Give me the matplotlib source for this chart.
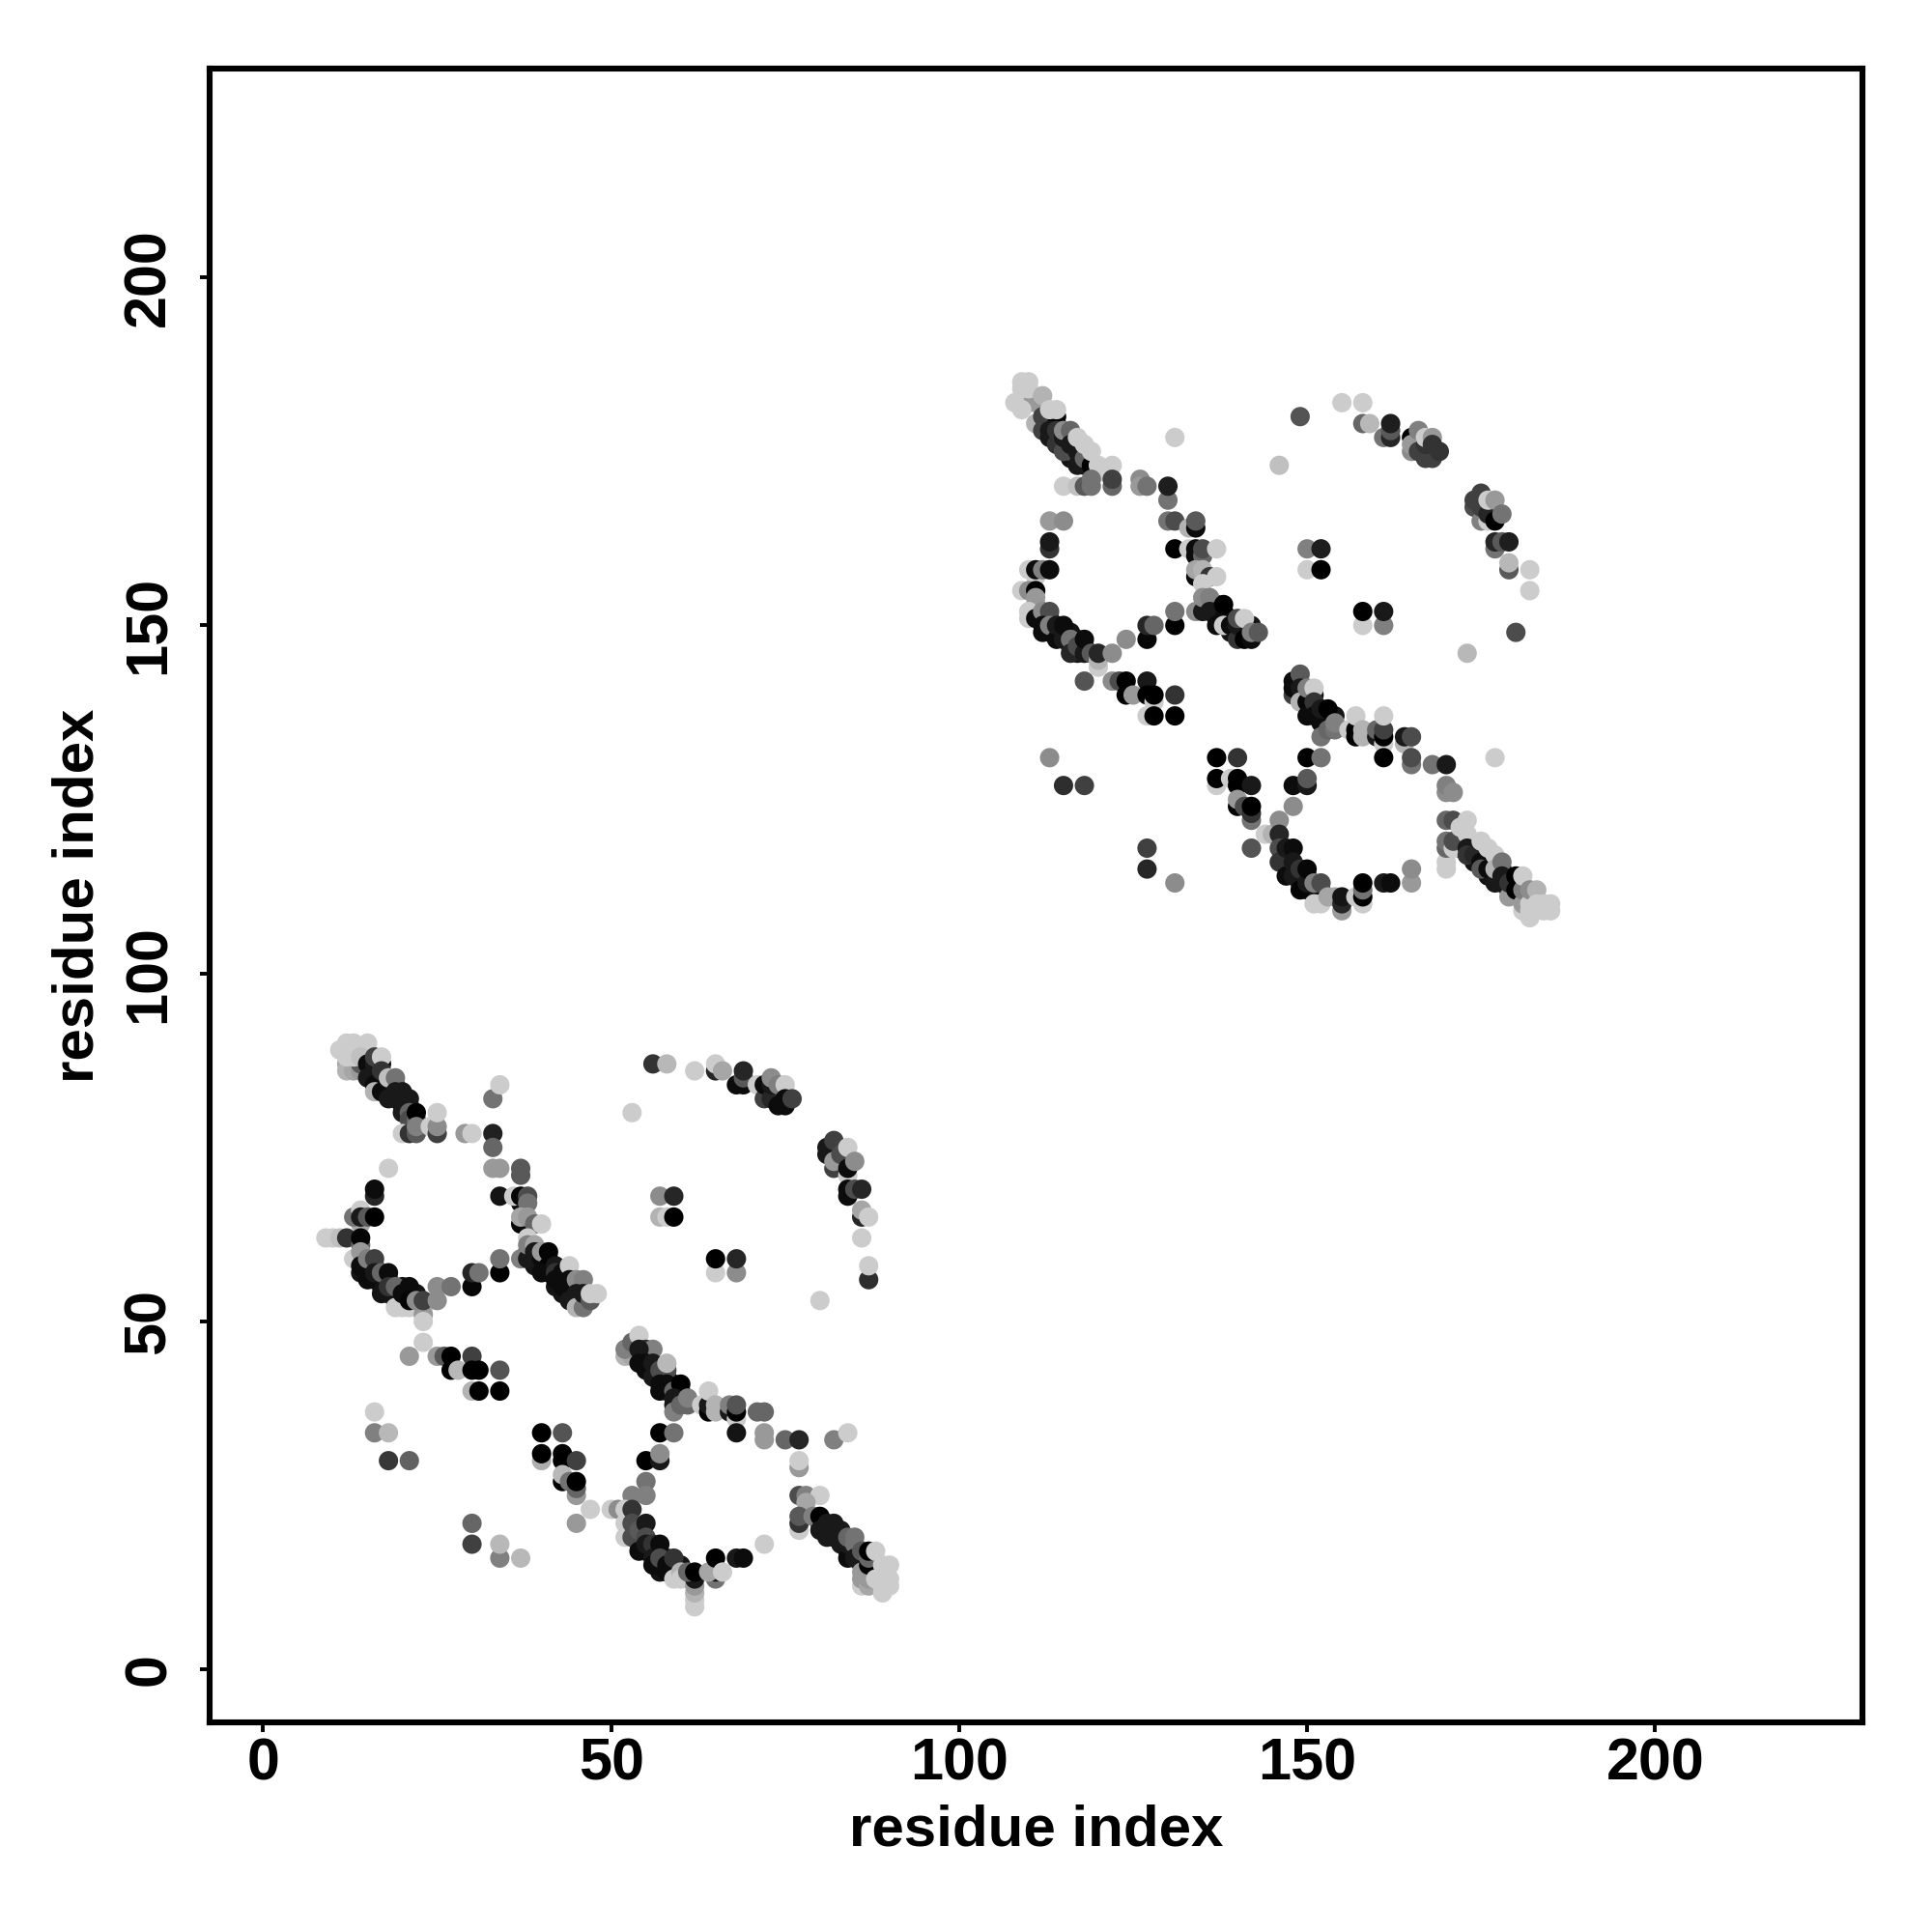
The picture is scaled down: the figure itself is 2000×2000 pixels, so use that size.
"""Residue contact map of two domains, points shaded by contact score."""

import matplotlib
matplotlib.use("Agg")
import matplotlib.pyplot as plt

ticks = [0, 50, 100, 150, 200]
L = 0.8  # weakest score shade
D = 0.08  # strong contacts in the dense bands

# dense dark bands, drawn first so the lighter points sit over them
core_lower = [
    (15, 86, D), (16, 85, D), (17, 85, D), (17, 84, D), (18, 83, D), (19, 84, D), (19, 82, D),
    (20, 81, D), (21, 81, D), (16, 86, D), (18, 84, D),
    (14, 59, D), (14, 57, D), (15, 58, D), (15, 57, D), (16, 58, D), (16, 56, D), (17, 56, D),
    (17, 55, D), (18, 56, D), (18, 54, D), (19, 54, D), (19, 53, D), (20, 55, D), (20, 53, D),
    (21, 54, D), (22, 54, D),
    (38, 60, D), (39, 59, D), (39, 58, D), (40, 58, D), (41, 59, D), (41, 57, D), (42, 55, D),
    (43, 56, D), (43, 54, D), (44, 54, D), (45, 53, D), (46, 53, D),
    (54, 45, D), (55, 45, D), (56, 43, D), (57, 42, D), (58, 42, D), (58, 40, D), (59, 41, D),
    (59, 38, D), (60, 39, D), (60, 40, D),
    (53, 20, D), (54, 19, D), (54, 18, D), (55, 17, D), (56, 17, D), (57, 15, D), (57, 14, D),
    (58, 16, D), (59, 15, D), (59, 14, D), (60, 15, D),
    (80, 21, D), (81, 20, D), (82, 20, D), (83, 19, D), (84, 17, D), (85, 17, D), (86, 16, D),
    (86, 15, D),
]
core_upper = [
    (113, 179, D), (114, 179, D), (114, 177, D), (115, 176, D), (116, 177, D), (116, 174, D),
    (117, 174, D), (118, 175, D), (118, 173, D),
    (111, 152, D), (112, 151, D), (113, 149, D), (113, 151, D), (114, 149, D), (115, 149, D),
    (116, 147, D), (116, 149, D), (117, 146, D), (117, 148, D), (118, 147, D),
    (136, 153, D), (137, 151, D), (137, 153, D), (138, 152, D), (139, 151, D), (139, 149, D),
    (140, 149, D), (141, 150, D), (141, 149, D), (142, 150, D),
    (149, 140, D), (150, 140, D), (151, 138, D), (151, 140, D), (152, 137, D), (153, 137, D),
    (153, 136, D), (154, 137, D),
    (147, 117, D), (147, 116, D), (148, 115, D), (149, 114, D), (149, 113, D), (150, 112, D),
    (150, 114, D), (151, 112, D), (152, 111, D), (152, 112, D),
    (172, 118, D), (173, 119, D), (174, 116, D), (174, 118, D), (175, 117, D), (176, 116, D),
    (176, 114, D), (177, 114, D), (178, 113, D), (178, 115, D), (179, 112, D),
]

# (residue i, residue j, grey level)
lower_strand = [
    (12, 87, .65), (13, 87, .6), (12, 86, .7), (13, 86, .65), (14, 86, .6), (14, 87, .35),
    (11, 89, L), (12, 90, L), (13, 90, L), (15, 90, L), (14, 89, L), (12, 88, L), (13, 88, L),
    (14, 88, .75), (15, 87, .05), (16, 87, .1), (17, 87, .05), (15, 85, .1), (16, 84, .05),
    (16, 88, .25), (17, 88, L), (17, 86, .2), (16, 83, .7), (17, 83, .05), (18, 85, .75),
    (19, 85, .45), (18, 82, .1), (19, 83, .1), (20, 83, .1), (20, 82, .1), (21, 82, .1),
    (20, 80, .1), (21, 80, .4), (21, 79, .3), (22, 79, .4), (22, 80, 0),
    (20, 77, L), (21, 77, .2), (22, 77, .35), (22, 78, .5), (24, 78, L), (25, 77, .25),
    (25, 78, .55), (25, 80, L), (29, 77, .6), (30, 77, L), (33, 77, .13), (33, 75, .4),
    (33, 82, .45), (34, 84, L), (53, 80, L),
]
lower_turn = [
    (18, 72, L), (33, 72, .6), (34, 72, .6), (37, 71, .35), (37, 72, .35),
    (16, 68, .15), (16, 69, .05), (34, 68, .08), (14, 64, .65), (13, 65, .45), (14, 66, L),
    (14, 65, .1), (15, 65, .35), (16, 65, 0), (9, 62, L), (10, 62, L), (11, 62, .75),
    (12, 62, .2), (14, 61, .4), (14, 62, .02), (13, 59, L), (14, 60, .6), (14, 58, .05),
    (15, 59, .5), (16, 59, .25), (15, 56, .05), (16, 57, .1), (17, 57, .4), (18, 57, .05),
    (17, 54, .08), (18, 55, .2), (19, 55, .4), (19, 52, L), (20, 52, L), (21, 52, L),
    (20, 54, .05), (21, 55, .05), (21, 53, .02), (23, 52, L), (23, 51, .6), (23, 50, L),
    (22, 53, .55), (23, 53, .25), (25, 55, .55), (27, 55, .45), (25, 53, .55), (23, 47, L),
    (30, 55, .03), (30, 57, .15), (31, 57, .45), (34, 57, 0), (34, 59, .45),
]
lower_helix = [
    (37, 67, .05), (36, 68, L), (37, 68, .02), (38, 68, .3), (38, 67, .45),
    (37, 64, .02), (38, 64, .05), (37, 65, .65), (38, 65, .6), (39, 64, .4), (40, 64, L),
    (38, 62, L), (37, 59, .5), (38, 59, .1), (38, 61, .5), (39, 61, .65), (39, 60, .1),
    (40, 59, .05), (40, 60, .6), (41, 60, .02), (41, 58, .02), (40, 57, .05), (42, 58, .1),
    (42, 57, .2), (42, 56, .05), (43, 57, .05), (43, 55, .05), (44, 58, L), (44, 56, .05),
    (44, 55, .05), (45, 55, .05), (45, 56, .55), (46, 56, .5), (44, 53, .1), (45, 54, .1),
    (45, 52, .7), (46, 52, .45), (46, 54, .1), (47, 53, .35), (47, 54, L), (48, 54, L),
]
lower_far = [
    (56, 87, .2), (58, 87, .72), (62, 86, L), (65, 86, .15), (65, 87, L), (66, 86, .65),
    (68, 84, .05), (69, 84, .05), (69, 85, .35), (69, 86, .15), (71, 84, L), (72, 82, .25),
    (72, 84, .05), (73, 82, .15), (73, 84, .1), (73, 85, .55), (74, 84, .5), (75, 84, L),
    (74, 81, .05), (75, 81, .05), (75, 82, .05), (76, 82, .25),
    (81, 74, .1), (81, 75, .1), (82, 76, .25), (82, 72, .25), (82, 73, .6), (83, 74, .3),
    (84, 71, L), (84, 72, .05), (84, 75, L), (85, 73, .55), (84, 68, .05), (84, 69, .05),
    (85, 69, .3), (86, 69, .15), (86, 65, .15), (86, 66, .65), (87, 65, L), (86, 62, L),
    (87, 56, .18), (87, 58, L), (80, 53, L),
    (57, 68, .55), (59, 68, .15), (57, 65, .7), (58, 65, L), (59, 65, 0),
    (65, 57, L), (68, 57, .55), (65, 59, 0), (68, 59, .15),
]
lower_cross = [
    (21, 45, .6), (25, 45, .6), (26, 45, .35), (27, 43, 0), (27, 45, 0), (28, 43, .72),
    (30, 45, .25), (30, 43, 0), (31, 43, 0), (34, 43, .33), (30, 40, .7), (31, 40, 0),
    (34, 40, 0), (16, 37, L), (16, 34, .5), (18, 34, .72), (18, 30, .22), (21, 30, .38),
    (40, 30, .68), (40, 34, 0), (43, 34, .33), (40, 31, 0), (43, 30, 0), (43, 31, 0),
    (45, 30, .25), (43, 27, 0), (43, 28, .72), (44, 27, .45), (45, 25, .6), (45, 26, .4),
    (45, 27, 0), (47, 23, L), (45, 21, .6), (30, 21, .4), (30, 18, .25), (34, 16, .5),
    (34, 18, .72), (37, 16, .72),
]
lower_strand2 = [
    (52, 45, .7), (53, 45, .65), (52, 46, .5), (53, 47, .4), (54, 48, L), (55, 46, .2),
    (56, 46, .5), (54, 46, .1), (54, 44, .05), (55, 44, .05), (55, 43, .05), (56, 44, .1),
    (56, 42, .1), (57, 43, .3), (58, 43, .3), (58, 44, .72), (57, 40, .05), (57, 41, .05),
    (58, 41, .05), (59, 40, .4), (60, 41, 0), (59, 39, .1), (59, 37, .5), (60, 38, .4),
    (61, 38, .4), (61, 39, .5), (63, 38, L), (64, 37, 0), (64, 38, .1), (64, 40, L),
    (65, 37, .7), (65, 38, .7), (67, 37, .1), (67, 38, .5), (68, 36, L), (68, 37, 0),
    (68, 38, .33), (71, 37, .4), (72, 37, .4), (68, 34, .08), (72, 33, .6), (72, 34, .6),
    (75, 33, .4), (77, 33, .15), (77, 29, .6), (77, 30, L), (82, 33, .5), (84, 34, L),
    (57, 34, 0), (59, 34, .45), (55, 30, 0), (57, 30, .1), (57, 31, .55), (55, 27, .45),
    (53, 25, .5), (55, 25, .5),
]
lower_turn2 = [
    (50, 23, L), (51, 23, .55), (52, 23, L), (52, 21, L), (52, 19, L), (53, 23, .2),
    (53, 21, .3), (53, 19, .3), (54, 20, .35), (54, 17, .05), (55, 21, .1), (55, 19, .3),
    (55, 18, .1), (56, 18, .2), (56, 16, .1), (56, 15, .05), (57, 18, .05), (57, 16, .3),
    (58, 15, .05), (58, 14, .05), (59, 16, .2), (59, 13, L), (60, 14, .7), (60, 13, L),
    (62, 9, L), (62, 10, L), (62, 11, .7), (62, 12, .6), (62, 13, .1), (61, 14, .4),
    (62, 14, 0), (65, 13, .45), (65, 14, .1), (64, 14, .65), (65, 16, 0), (66, 14, L),
    (68, 16, .1), (69, 16, .05), (72, 18, L),
]
lower_helix2 = [
    (77, 25, .3), (78, 25, .5), (80, 25, L), (78, 24, .65), (77, 20, L), (77, 21, .2),
    (77, 22, .35), (79, 22, .5), (80, 22, 0), (80, 20, .1), (81, 21, .1), (81, 19, .1),
    (82, 21, .1), (82, 19, .1), (83, 20, .1), (83, 18, .1), (84, 16, .05), (84, 18, .1),
    (84, 19, .4), (85, 19, .45), (85, 18, .45), (85, 16, .1), (86, 14, .6), (86, 17, .35),
    (86, 12, L), (86, 13, .6), (87, 12, .65), (87, 13, .6), (87, 15, 0), (87, 16, .4),
    (87, 17, 0), (88, 17, L), (88, 13, L), (89, 11, L), (89, 12, L), (90, 12, L),
    (89, 13, L), (90, 13, L), (89, 15, L), (90, 15, L),
]
upper_strand = [
    (109, 182, .7), (110, 182, .6), (111, 182, .6), (109, 181, L), (108, 182, L),
    (109, 185, L), (110, 185, L), (109, 184, L), (110, 184, L), (112, 183, .7),
    (111, 179, .7), (112, 180, .25), (114, 180, 0), (113, 181, L), (114, 181, L),
    (112, 178, .25), (113, 178, .1), (113, 177, .1), (114, 178, .2), (114, 176, .2),
    (115, 175, .3), (115, 177, .1), (116, 175, .3), (115, 178, .55), (116, 178, .4),
    (116, 176, .1), (117, 173, .1), (117, 175, .1), (118, 174, .4), (117, 177, L),
    (118, 176, L), (119, 173, 0), (119, 175, L), (120, 173, L), (121, 172, L), (122, 173, L),
    (115, 170, L), (117, 170, .75), (118, 170, .35), (119, 170, .45), (119, 171, .45),
    (122, 170, .4), (122, 171, .25), (126, 171, .55), (126, 170, .6), (127, 170, .45),
    (130, 168, .45), (130, 170, .12), (131, 177, L), (149, 180, .33), (146, 173, .75),
]
upper_turn = [
    (113, 165, .6), (115, 165, .55), (130, 165, .45), (131, 165, .3), (133, 164, .7),
    (134, 164, .05), (134, 165, .35), (113, 161, .2), (113, 162, .1), (131, 161, 0),
    (110, 158, L), (111, 157, L), (111, 158, .05), (112, 158, .5), (113, 158, .05),
    (109, 155, L), (110, 155, .55), (111, 155, 0), (111, 153, .55), (111, 154, .6),
    (110, 151, L), (110, 152, L), (111, 151, .05), (112, 152, .55), (113, 152, .3),
    (112, 149, .05), (112, 150, .05), (113, 150, .5), (114, 148, .05), (114, 150, .1),
    (115, 148, .1), (115, 150, .05), (116, 148, .45), (116, 146, .15), (117, 147, .3),
    (118, 146, .1), (118, 148, .05), (119, 146, .35), (120, 144, L), (120, 145, .7),
    (120, 146, .15), (122, 146, .55), (124, 148, .55), (127, 148, .03), (127, 150, .15),
    (128, 150, .4), (131, 150, 0), (131, 152, .45),
]
upper_helix = [
    (133, 161, L), (134, 160, .05), (134, 161, .05), (135, 160, .4), (135, 161, .3),
    (137, 161, L), (134, 157, .05), (135, 157, .05), (134, 158, .65), (135, 158, .7),
    (136, 157, .2), (137, 157, L), (135, 156, L), (134, 152, .55), (135, 152, .1),
    (135, 154, .55), (136, 154, .5), (136, 152, .1), (137, 152, .1), (137, 150, .05),
    (138, 151, .05), (138, 153, 0), (138, 150, L), (139, 150, .05), (140, 148, .2),
    (140, 150, .1), (140, 151, .3), (141, 151, L), (141, 148, 0), (142, 148, .05),
    (142, 149, .5), (143, 149, .35),
]
upper_far = [
    (155, 182, L), (158, 182, L), (158, 179, .4), (159, 179, .72), (161, 177, .45),
    (162, 177, .15), (162, 178, .35), (162, 179, .12), (165, 175, .55), (165, 177, 0),
    (165, 176, .6), (166, 175, .25), (167, 174, .25), (168, 174, .25), (166, 178, .5),
    (167, 176, .2), (167, 177, L), (168, 177, .6), (168, 176, .2), (169, 175, .2),
    (174, 167, .3), (174, 168, .25), (175, 169, .25), (175, 165, .5), (175, 167, .25),
    (176, 165, L), (176, 166, .15), (176, 168, L), (177, 168, .6), (177, 165, 0),
    (178, 166, .45), (177, 161, .45), (177, 162, .15), (178, 162, .35), (179, 162, .12),
    (179, 158, .35), (179, 159, .72), (182, 158, L), (182, 155, L), (180, 149, .3),
    (173, 146, .72), (150, 161, .5), (152, 161, .12), (150, 158, L), (152, 158, 0),
    (158, 150, L), (161, 150, .5), (158, 152, 0), (161, 152, .1),
]
upper_cross = [
    (118, 142, .33), (122, 142, .55), (123, 142, .3), (124, 140, 0), (124, 142, 0),
    (125, 140, .6), (127, 142, .1), (127, 140, 0), (127, 137, L), (128, 139, L), (128, 140, 0),
    (128, 137, 0), (131, 140, .2), (131, 137, 0), (113, 131, .55), (115, 127, .18),
    (118, 127, .25), (137, 127, L), (137, 131, 0), (140, 131, .2), (137, 128, 0),
    (139, 128, L), (140, 127, 0), (140, 128, 0), (142, 127, .1), (140, 124, 0),
    (140, 125, .6), (141, 124, .3), (142, 122, .45), (142, 123, .2), (142, 124, 0),
    (144, 120, L), (145, 120, .7), (142, 118, .33), (127, 118, .25), (127, 115, .15),
    (131, 113, .55),
]
upper_strand2 = [
    (148, 127, .05), (150, 127, .1), (150, 128, .35), (150, 131, 0), (152, 131, .45),
    (148, 124, .55), (146, 122, .55), (148, 140, .25), (148, 141, .05), (148, 142, .05),
    (149, 143, .35), (149, 141, .1), (149, 139, .7), (150, 139, .03), (150, 141, .5),
    (151, 141, L), (150, 137, .05), (151, 139, .2), (151, 137, .05), (152, 136, .05),
    (152, 134, .45), (152, 138, .1), (153, 138, 0), (153, 135, .4), (154, 135, .45),
    (154, 136, .5), (156, 135, L), (157, 134, 0), (157, 135, .02), (157, 137, L),
    (158, 134, .7), (158, 135, .7), (160, 134, .1), (160, 135, .4), (161, 133, L),
    (161, 134, 0), (161, 135, .25), (161, 137, L), (161, 131, 0), (164, 133, .7),
    (164, 134, .1), (165, 134, .3), (165, 130, .45), (165, 131, .3), (168, 130, .45),
    (170, 130, .1), (170, 126, .55), (170, 127, .5), (171, 126, .55), (177, 131, L),
]
upper_turn2 = [
    (146, 120, .15), (146, 118, .3), (146, 116, .2), (147, 118, .1), (147, 114, .05),
    (148, 118, .05), (148, 116, .1), (148, 114, .1), (149, 115, .2), (149, 112, .02),
    (150, 113, .1), (150, 115, .03), (151, 110, L), (152, 110, L), (151, 113, .5),
    (152, 113, .3), (153, 111, .65), (154, 111, .65), (155, 109, .6), (155, 110, .15),
    (155, 111, .08), (157, 111, L), (158, 110, L), (158, 111, 0), (158, 112, .45),
    (158, 113, 0), (161, 113, .1), (162, 113, .05), (165, 113, .6), (165, 115, .55),
]
upper_helix2 = [
    (170, 122, .4), (171, 122, .3), (170, 115, L), (170, 116, L), (170, 118, .4),
    (170, 119, .45), (171, 118, L), (171, 119, .3), (172, 121, L), (173, 122, L),
    (173, 120, L), (173, 118, .1), (173, 117, .2), (174, 117, .15), (175, 116, .05),
    (175, 115, .35), (175, 119, L), (176, 118, L), (176, 115, .05), (177, 113, .1),
    (177, 117, L), (177, 115, .7), (178, 116, .45), (178, 114, .1), (179, 111, .6),
    (179, 113, .2), (180, 112, 0), (180, 114, 0), (181, 109, L), (181, 110, .6),
    (181, 112, .5), (181, 114, L), (182, 108, L), (182, 109, L), (182, 110, L),
    (182, 112, .55), (183, 112, .7), (183, 110, L), (184, 109, L), (184, 110, L),
    (185, 109, L), (185, 110, L),
]

groups = [core_lower, core_upper, lower_strand, lower_turn, lower_helix, lower_far, lower_cross,
          lower_strand2, lower_turn2, lower_helix2, upper_strand, upper_turn, upper_helix,
          upper_far, upper_cross, upper_strand2, upper_turn2, upper_helix2]

plt.rcParams["font.family"] = ["Liberation Sans", "DejaVu Sans"]
plt.rcParams["font.weight"] = "bold"

fig = plt.figure(figsize=(10, 10), dpi=200)
ax = fig.add_axes([217 / 2000, 1 - 1783 / 2000, 1711 / 2000, 1712 / 2000])

for g in groups:
    xs = [p[0] for p in g]
    ys = [p[1] for p in g]
    cs = [p[2] for p in g]
    ax.scatter(xs, ys, c=cs, cmap="gray", vmin=0, vmax=1, s=52, linewidths=0, zorder=3)

ax.set_xlim(-7.7, 229.8)
ax.set_ylim(-7.6, 230)
ax.set_xticks(ticks)
ax.set_yticks(ticks)
ax.tick_params(axis="x", width=1.4, length=3.6, labelsize=22, pad=2)
ax.tick_params(axis="y", width=1.4, length=3.6, labelsize=22, pad=8.4)
plt.setp(ax.get_yticklabels(), rotation=90, va="center")
ax.set_xlabel("residue index", fontsize=21.6, fontweight="bold", va="center")
ax.set_ylabel("residue index", fontsize=21.6, fontweight="bold", va="center")
ax.xaxis.set_label_coords(0.5, -0.0655)
ax.yaxis.set_label_coords(-0.0792, 0.5)
for s in ax.spines.values():
    s.set_linewidth(2.2)

fig.savefig("out.png", dpi=200)
